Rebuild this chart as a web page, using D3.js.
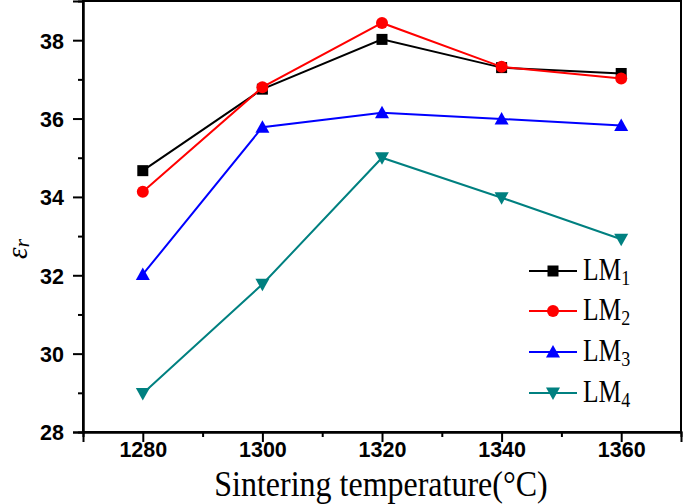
<!DOCTYPE html>
<html>
<head>
<meta charset="utf-8">
<script src="https://cdn.jsdelivr.net/npm/d3@7"></script>
<style>
  body { margin: 0; background: #fff; }
  svg { display: block; }
</style>
</head>
<body>
<div id="chart"></div>
<script>
// data
var temps = [1280, 1300, 1320, 1340, 1360];
var lm1 = [34.67, 36.75, 38.02, 37.30, 37.15];
var lm2 = [34.13, 36.80, 38.44, 37.32, 37.02];
var lm3 = [32.02, 35.78, 36.15, 35.99, 35.82];
var lm4 = [28.98, 31.77, 35.00, 33.98, 32.92];
var seriesNames = ["1", "2", "3", "4"];
var colors = ["#000000", "#ff0000", "#0000ff", "#008080"];
var xTicks = [1280, 1300, 1320, 1340, 1360];
var yTicks = [28, 30, 32, 34, 36, 38];

var W = 685, H = 504;
var margin = {top: 1, right: 4, bottom: 72, left: 83},
    width = W - margin.left - margin.right,
    height = H - margin.top - margin.bottom;

var svg = d3.select("#chart")
  .append("svg")
    .attr("width", W)
    .attr("height", H);

var g = svg.append("g")
    .attr("transform", "translate(" + margin.left + "," + margin.top + ")");

var x = d3.scaleLinear().domain([1270, 1370]).range([0, width]);
var y = d3.scaleLinear().domain([28, 39]).range([height, 0]);

// frame
g.append("rect")
  .attr("x", 0).attr("y", 0)
  .attr("width", width).attr("height", height)
  .attr("fill", "none")
  .attr("stroke", "#000")
  .attr("stroke-width", 2);

// minor ticks
var xMinor = d3.axisBottom(x).tickValues(d3.range(1290, 1370, 20)).tickSize(5).tickFormat("");
var yMinor = d3.axisLeft(y).tickValues(d3.range(29, 39, 2)).tickSize(5).tickFormat("");
g.append("g").attr("transform", "translate(0," + height + ")").call(xMinor);
g.append("g").call(yMinor);

// major axes
var xAxis = g.append("g")
  .attr("transform", "translate(0," + height + ")")
  .call(d3.axisBottom(x).tickValues(xTicks).tickSize(10).tickPadding(0).tickFormat(d3.format("d")));
var yAxis = g.append("g")
  .call(d3.axisLeft(y).tickValues(yTicks).tickSize(10).tickPadding(9).tickFormat(d3.format("d")));

g.selectAll(".domain").attr("stroke-width", 2);
g.selectAll(".tick line").attr("stroke-width", 2);
g.selectAll(".tick text")
  .attr("font-family", "Liberation Sans, Arial, sans-serif")
  .attr("font-weight", "bold")
  .attr("font-size", 21.5)
  .attr("fill", "#000");
yAxis.selectAll(".tick text").attr("dy", "0.37em");

// series
var allSeries = [lm1, lm2, lm3, lm4];
var line = d3.line()
  .x(function(d, i) { return x(temps[i]); })
  .y(function(d) { return y(d); });

function marker(sel, k, cx, cy) {
  var c = colors[k];
  if (k == 0) {
    sel.append("rect").attr("x", cx - 5.5).attr("y", cy - 5.5)
      .attr("width", 11).attr("height", 11).attr("fill", c);
  } else if (k == 1) {
    sel.append("circle").attr("cx", cx).attr("cy", cy).attr("r", 6).attr("fill", c);
  } else if (k == 2) {
    sel.append("path")
      .attr("d", "M" + cx + "," + (cy - 7) + "L" + (cx + 7) + "," + (cy + 5.5) + "L" + (cx - 7) + "," + (cy + 5.5) + "Z")
      .attr("fill", c);
  } else {
    sel.append("path")
      .attr("d", "M" + cx + "," + (cy + 7) + "L" + (cx + 7) + "," + (cy - 5.5) + "L" + (cx - 7) + "," + (cy - 5.5) + "Z")
      .attr("fill", c);
  }
}

allSeries.forEach(function(vals, k) {
  g.append("path")
    .datum(vals)
    .attr("fill", "none")
    .attr("stroke", colors[k])
    .attr("stroke-width", 2)
    .attr("d", line);
  var mg = g.append("g");
  vals.forEach(function(v, i) {
    marker(mg, k, x(temps[i]), y(v));
  });
});

// legend (reference text is a bit stretched vertically)
var legY = [271, 311, 352, 393];
seriesNames.forEach(function(n, k) {
  var lg = svg.append("g");
  lg.append("line")
    .attr("x1", 529).attr("x2", 577)
    .attr("y1", legY[k]).attr("y2", legY[k])
    .attr("stroke", colors[k]).attr("stroke-width", 2);
  marker(lg, k, 553, legY[k]);
  var t = lg.append("text")
    .attr("transform", "translate(583," + (legY[k] + 9) + ") scale(1,1.2)")
    .attr("font-family", "Liberation Serif, Times New Roman, serif")
    .attr("font-size", 25.5)
    .attr("fill", "#000")
    .text("LM");
  t.append("tspan").attr("dy", 4.5).attr("font-size", 18).text(n);
});

// x title
svg.append("text")
  .attr("transform", "translate(" + (margin.left + width / 2 - 1) + ",496) scale(1,1.1)")
  .attr("text-anchor", "middle")
  .attr("font-family", "Liberation Serif, Times New Roman, serif")
  .attr("font-size", 32)
  .attr("fill", "#000")
  .text("Sintering temperature(°C)");

// y title
var yt = svg.append("text")
  .attr("transform", "translate(27,249) rotate(-90)")
  .attr("text-anchor", "middle")
  .attr("font-family", "Liberation Serif, Times New Roman, serif")
  .attr("font-style", "italic")
  .attr("font-size", 29)
  .attr("fill", "#000")
  .text("ε");
yt.append("tspan").attr("dy", 2).attr("font-size", 22).text("r");
</script>
</body>
</html>
